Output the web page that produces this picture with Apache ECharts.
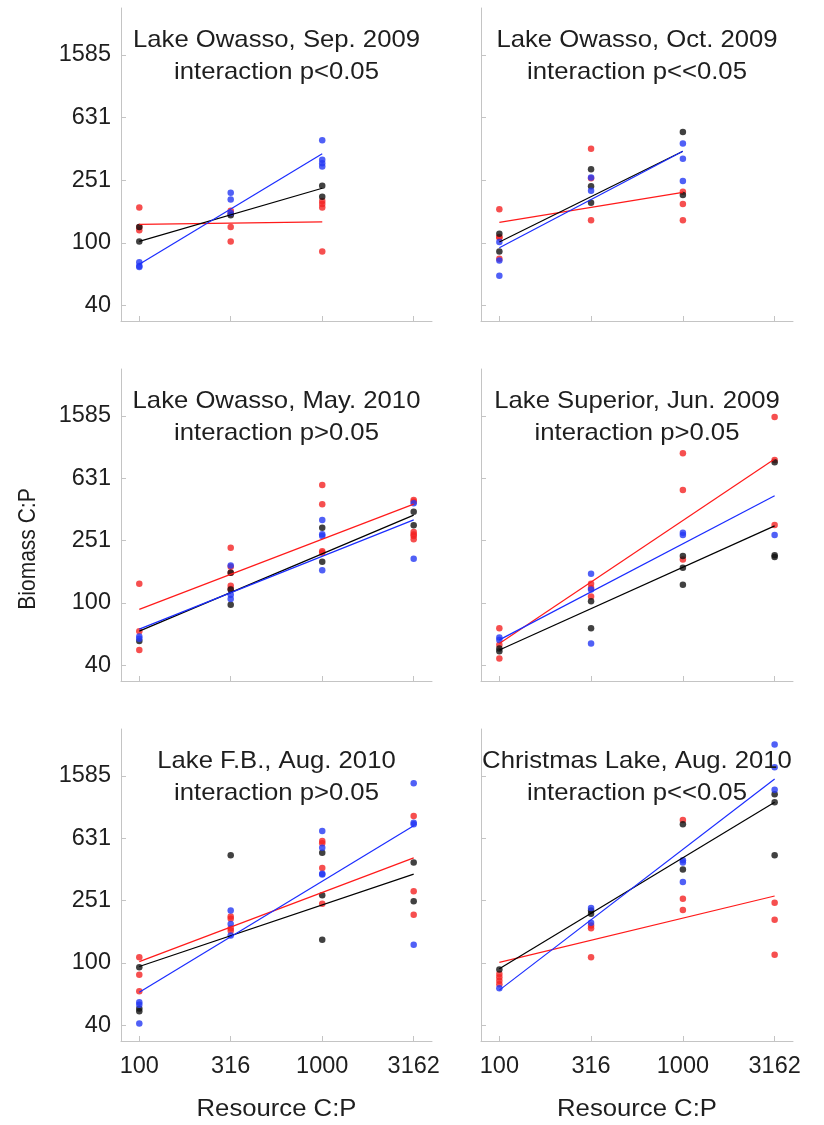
<!DOCTYPE html>
<html>
<head>
<meta charset="utf-8">
<title>Biomass C:P vs Resource C:P</title>
<script src="https://cdn.jsdelivr.net/npm/echarts@6/dist/echarts.min.js"></script>
<style>
  html, body { margin: 0; padding: 0; background: #fff; }
  #chart { width: 824px; height: 1125px; }
</style>
</head>
<body>
<div id="chart"></div>
<script>
// Tick values on both log axes
const xTicks = [100, 316, 1000, 3162];
const yTicks = [40, 100, 251, 631, 1585];

// Resource C:P treatment levels (per panel, the first N are used)
const resourceLevels = [100, 316, 1000, 3162];

const panelNames = [
  'Lake Owasso, Sep. 2009',
  'Lake Owasso, Oct. 2009',
  'Lake Owasso, May. 2010',
  'Lake Superior, Jun. 2009',
  'Lake F.B., Aug. 2010',
  'Christmas Lake, Aug. 2010'
];
const panelStats = [
  'interaction p<0.05',
  'interaction p<<0.05',
  'interaction p>0.05',
  'interaction p>0.05',
  'interaction p>0.05',
  'interaction p<<0.05'
];

// Biomass C:P replicates, grouped by resource level
const owassoSep09 = {
  red:   [[168, 126, 120], [160, 154, 126, 102], [185, 177, 168, 88]],
  black: [[126, 102], [150], [231, 197]],
  blue:  [[75, 71, 70], [209, 189, 155], [451, 339, 322, 307]]
};
const owassoOct09 = {
  red:   [[164, 109, 108, 79], [399, 258, 139], [212, 177, 139]],
  black: [[114, 88], [295, 230, 180], [511, 202]],
  blue:  [[101, 77, 61.5], [261, 215], [430, 344, 248]]
};
const owassoMay10 = {
  red:   [[133, 66, 50], [226, 171, 156, 129, 123], [570, 430, 215, 210], [458, 445, 285, 275, 269, 256]],
  black: [[57], [156, 122, 97.5], [304, 184], [384, 315]],
  blue:  [[61, 59], [174, 113, 106], [341, 276, 269, 162], [436, 192]]
};
const superiorJun09 = {
  red:   [[69, 54, 44], [133, 125, 110], [912, 530, 190], [1556, 826, 316]],
  black: [[51, 49], [102.6, 69], [200, 168, 131], [798, 202, 197]],
  blue:  [[60, 58], [154, 122, 55], [282, 273], [273]]
};
const fbAug10 = {
  red:   [[109, 84, 66], [199, 192, 167, 161], [605, 585, 407, 240], [877, 288, 204]],
  black: [[94, 51, 49], [491], [509, 272, 141], [441, 249]],
  blue:  [[56, 54, 41], [217, 178, 150], [701, 548, 374, 369], [1422, 794, 775, 131]]
};
const christmasAug10 = {
  red:   [[85, 81, 77, 73], [174, 167, 109], [826, 258, 219], [243, 189, 113]],
  black: [[91], [217, 207], [774, 397], [1208, 1074, 491]],
  blue:  [[69], [225, 181], [456, 441, 331], [2512, 1795, 1288]]
};

// Fitted log-log regression lines: biomass C:P at the lowest and highest resource level
const owassoSep09Fit    = { red: [131, 136], black: [102, 223], blue: [73, 371] };
const owassoOct09Fit    = { red: [135, 210], black: [101, 384], blue: [93, 384] };
const owassoMay10Fit    = { red: [91, 430],  black: [66, 366],  blue: [68, 341] };
const superiorJun09Fit  = { red: [55, 838],  black: [50, 312],  blue: [58, 487] };
const fbAug10Fit        = { red: [102, 472], black: [95, 371],  blue: [65, 759] };
const christmasAug10Fit = { red: [101, 269], black: [92, 1074], blue: [67, 1510] };

const panelData = [owassoSep09, owassoOct09, owassoMay10, superiorJun09, fbAug10, christmasAug10];
const panelFits = [owassoSep09Fit, owassoOct09Fit, owassoMay10Fit, superiorJun09Fit, fbAug10Fit, christmasAug10Fit];

// ---- drawing ----
const FONT = '"Liberation Sans", Arial, Helvetica, sans-serif';
const AXIS_GRAY = '#c4c4c4';
const TEXT = '#1e1e1e';
const pointColors = { red: '#f42323', black: '#111111', blue: '#2438f4' };
const lineColors  = { red: '#ff1a1a', black: '#000000', blue: '#1a2cff' };
const drawOrder = ['red', 'black', 'blue'];

const log = Math.log10;
const colLeft = [121, 481];
const colWidth = [311, 312];
const rowTop = [8, 369, 729];
const rowHeight = [313, 312, 312];

const grids = [], xAxes = [], yAxes = [], series = [], graphics = [];

for (let i = 0; i < 6; i++) {
  const row = Math.floor(i / 2), col = i % 2;
  grids.push({ left: colLeft[col], top: rowTop[row], width: colWidth[col], height: rowHeight[row] });

  xAxes.push({
    type: 'value', gridIndex: i, min: 1.9, max: 3.6,
    splitLine: { show: false },
    axisLine: { show: true, onZero: false, lineStyle: { color: AXIS_GRAY, width: 1 } },
    axisTick: { show: true, inside: true, length: 5, customValues: xTicks.map(log),
                lineStyle: { color: AXIS_GRAY } },
    axisLabel: { show: row === 2, customValues: xTicks.map(log), margin: 14,
                 formatter: v => String(Math.round(Math.pow(10, v))),
                 fontFamily: FONT, fontSize: 23.5, color: TEXT }
  });
  yAxes.push({
    type: 'value', gridIndex: i, min: 1.5, max: 3.5,
    splitLine: { show: false },
    axisLine: { show: true, onZero: false, lineStyle: { color: AXIS_GRAY, width: 1 } },
    axisTick: { show: true, inside: true, length: 5, customValues: yTicks.map(log),
                lineStyle: { color: AXIS_GRAY } },
    axisLabel: { show: col === 0, customValues: yTicks.map(log), margin: 10,
                 formatter: v => String(Math.round(Math.pow(10, v))),
                 fontFamily: FONT, fontSize: 23.5, color: TEXT }
  });

  const d = panelData[i], f = panelFits[i];
  drawOrder.forEach(c => {
    const pts = [];
    d[c].forEach((vals, k) => vals.forEach(v => pts.push([log(resourceLevels[k]), log(v)])));
    series.push({
      type: 'scatter', xAxisIndex: i, yAxisIndex: i, data: pts,
      symbol: 'circle', symbolSize: 6.5, silent: true, z: 2,
      itemStyle: { color: pointColors[c] }
    });
  });
  const lastLevel = resourceLevels[d.red.length - 1];
  drawOrder.forEach(c => {
    series.push({
      type: 'line', xAxisIndex: i, yAxisIndex: i, silent: true, z: 3,
      data: [[log(resourceLevels[0]), log(f[c][0])], [log(lastLevel), log(f[c][1])]],
      symbol: 'none', lineStyle: { color: lineColors[c], width: 1.2 }
    });
  });

  const cx = colLeft[col] + colWidth[col] / 2;
  const ty = rowTop[row] + 32;
  graphics.push({
    type: 'text', x: cx, y: ty, scaleX: 1.07, z: 10,
    style: { text: panelNames[i], align: 'center', verticalAlign: 'middle',
             font: '24px ' + FONT, fill: TEXT }
  });
  graphics.push({
    type: 'text', x: cx, y: ty + 32, scaleX: 1.07, z: 10,
    style: { text: panelStats[i], align: 'center', verticalAlign: 'middle',
             font: '24px ' + FONT, fill: TEXT }
  });
}

// Axis titles
[0, 1].forEach(col => {
  graphics.push({
    type: 'text', x: colLeft[col] + colWidth[col] / 2, y: 1109, scaleX: 1.07,
    style: { text: 'Resource C:P', align: 'center', verticalAlign: 'middle',
             font: '24px ' + FONT, fill: TEXT }
  });
});
graphics.push({
  type: 'text', x: 28, y: 549, rotation: Math.PI / 2, scaleY: 1.15,
  style: { text: 'Biomass C:P', align: 'center', verticalAlign: 'middle',
           font: '21px ' + FONT, fill: TEXT }
});

const chart = echarts.init(document.getElementById('chart'), null, { renderer: 'canvas' });
chart.setOption({
  animation: false,
  backgroundColor: '#ffffff',
  grid: grids,
  xAxis: xAxes,
  yAxis: yAxes,
  series: series,
  graphic: graphics
});
</script>
</body>
</html>
